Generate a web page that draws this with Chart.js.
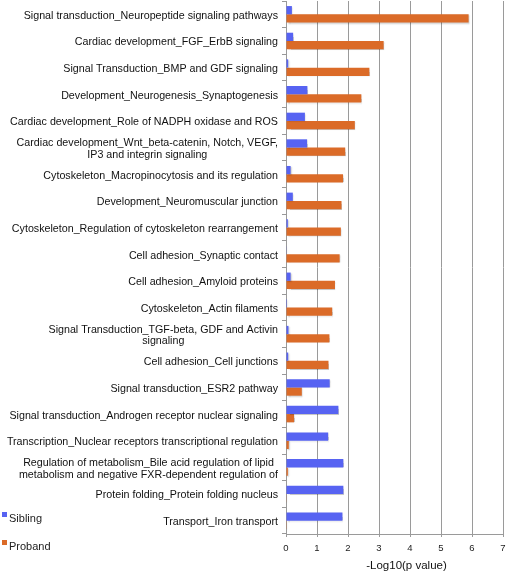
<!DOCTYPE html>
<html>
<head>
<meta charset="utf-8">
<script src="https://cdn.jsdelivr.net/npm/chart.js@4"></script>
<style>
  html, body { margin: 0; padding: 0; background: #fff; }
  #wrap { position: relative; width: 506px; height: 571px; }
  #legend { position: absolute; left: 2px; top: 511px; font: 11px "Liberation Sans", Arial, sans-serif; color: #222; }
  #legend div { height: 28px; line-height: 14px; white-space: nowrap; }
  #legend span.sw { display: inline-block; width: 5px; height: 5px; margin-right: 2px; vertical-align: 5px; }
</style>
</head>
<body>
<div id="wrap">
  <canvas id="c" width="506" height="571"></canvas>
  <div id="legend"></div>
</div>
<script>
const categories = [
  "Signal transduction_Neuropeptide signaling pathways",
  "Cardiac development_FGF_ErbB signaling",
  "Signal Transduction_BMP and GDF signaling",
  "Development_Neurogenesis_Synaptogenesis",
  "Cardiac development_Role of NADPH oxidase and ROS",
  ["Cardiac development_Wnt_beta-catenin, Notch, VEGF,", "IP3 and integrin signaling"],
  "Cytoskeleton_Macropinocytosis and its regulation",
  "Development_Neuromuscular junction",
  "Cytoskeleton_Regulation of cytoskeleton rearrangement",
  "Cell adhesion_Synaptic contact",
  "Cell adhesion_Amyloid proteins",
  "Cytoskeleton_Actin filaments",
  ["Signal Transduction_TGF-beta, GDF and Activin", "signaling"],
  "Cell adhesion_Cell junctions",
  "Signal transduction_ESR2 pathway",
  "Signal transduction_Androgen receptor nuclear signaling",
  "Transcription_Nuclear receptors transcriptional regulation",
  ["Regulation of metabolism_Bile acid regulation of lipid", "metabolism and negative FXR-dependent regulation of"],
  "Protein folding_Protein folding nucleus",
  "Transport_Iron transport"
];
const siblingValues = [0.19,0.23,0.07,0.69,0.61,0.68,0.15,0.22,0.06,0.02,0.15,0.03,0.08,0.07,1.41,1.69,1.36,1.85,1.85,1.82];
const probandValues = [5.89,3.15,2.69,2.43,2.22,1.91,1.84,1.79,1.77,1.73,1.58,1.49,1.40,1.37,0.51,0.26,0.09,0.06,0.02,0.01];
const seriesNames = ["Sibling", "Proband"];
const xTickValues = [0,1,2,3,4,5,6,7];
const axisTitle = "-Log10(p value)";

const FAMILY = '"Liberation Sans", Arial, sans-serif';
const LABEL_FONT = '10.7px ' + FAMILY;

const barShadowPlugin = {
  id: 'barShadow',
  beforeDatasetsDraw(chart) {
    const ctx = chart.ctx;
    ctx.save();
    ctx.shadowColor = 'rgba(0,0,0,0.22)';
    ctx.shadowOffsetX = 1;
    ctx.shadowOffsetY = 1;
    ctx.shadowBlur = 1.5;
  },
  afterDatasetsDraw(chart) {
    chart.ctx.restore();
  }
};

const yLabelPlugin = {
  id: 'yLabels',
  afterDraw(chart) {
    const ctx = chart.ctx;
    const scale = chart.scales.y;
    const rightEdge = scale.right - 8;
    const lh = 11.8;
    ctx.save();
    ctx.font = LABEL_FONT;
    ctx.fillStyle = '#111';
    ctx.textAlign = 'center';
    ctx.textBaseline = 'middle';
    chart.data.labels.forEach((lab, i) => {
      const lines = Array.isArray(lab) ? lab : [lab];
      const w = Math.max(...lines.map(l => ctx.measureText(l).width));
      const cx = rightEdge - w / 2;
      const cy = scale.getPixelForTick(i) + 1.5;
      lines.forEach((l, k) => {
        ctx.fillText(l, cx, cy + (k - (lines.length - 1) / 2) * lh);
      });
    });
    // x-axis title
    const xs = chart.scales.x;
    ctx.font = '11.5px ' + FAMILY;
    ctx.textAlign = 'center';
    ctx.fillText(axisTitle, (xs.left + xs.right) / 2 + 12, xs.bottom - 5);
    ctx.restore();
  }
};

const chart = new Chart(document.getElementById('c'), {
  type: 'bar',
  data: {
    labels: categories,
    datasets: [
      { label: seriesNames[0], data: siblingValues, backgroundColor: '#5763F2', categoryPercentage: 0.62, barPercentage: 1.0 },
      { label: seriesNames[1], data: probandValues, backgroundColor: '#DB6B28', categoryPercentage: 0.62, barPercentage: 1.0 }
    ]
  },
  options: {
    indexAxis: 'y',
    responsive: false,
    animation: false,
    events: [],
    layout: { padding: { top: 1, right: 3, left: 0, bottom: 0 } },
    plugins: { legend: { display: false }, tooltip: { enabled: false } },
    scales: {
      y: {
        type: 'category',
        ticks: { display: false },
        grid: { display: true, drawOnChartArea: false, offset: true, tickLength: 4, color: '#999', lineWidth: 1 },
        border: { color: '#999' },
        afterFit(scale) { scale.width = 286; }
      },
      x: {
        min: 0, max: 7,
        afterBuildTicks(scale) { scale.ticks = xTickValues.map(v => ({ value: v })); },
        ticks: { color: '#222', font: { size: 9.5, family: FAMILY }, padding: 6 },
        grid: { color: '#9a9a9a', lineWidth: 1, drawTicks: true, tickLength: 3, tickColor: '#9a9a9a' },
        border: { color: '#9a9a9a' },
        title: { display: false },
        afterFit(scale) { scale.height = 37; scale.paddingLeft = 0; scale.paddingRight = 0; }
      }
    }
  },
  plugins: [barShadowPlugin, yLabelPlugin]
});

const legendEl = document.getElementById('legend');
chart.data.datasets.forEach(ds => {
  const row = document.createElement('div');
  const sw = document.createElement('span');
  sw.className = 'sw';
  sw.style.background = ds.backgroundColor;
  row.appendChild(sw);
  row.appendChild(document.createTextNode(ds.label));
  legendEl.appendChild(row);
});
</script>
</body>
</html>
